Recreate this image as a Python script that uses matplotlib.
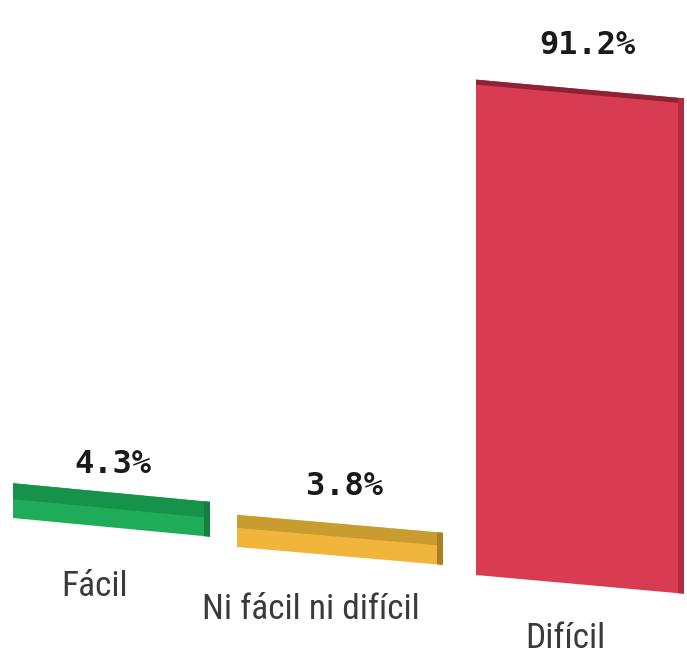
import matplotlib
matplotlib.use('Agg')
import matplotlib.pyplot as plt
from matplotlib.transforms import Affine2D
from matplotlib import font_manager

categories = ['Fácil', 'Ni fácil ni difícil', 'Difícil']
values = [4.3, 3.8, 91.2]
value_labels = ['4.3%', '3.8%', '91.2%']

W, H = 687, 657
PX = 5.3  # pixels per percentage point
fig = plt.figure(figsize=(W / 100, H / 100), dpi=100)
ax = fig.add_axes([0, 0, 1, 1])
ax.set_xlim(0, W)
ax.set_ylim(0, H / PX)
ax.axis('off')

# pick a condensed face if available
names = {f.name for f in font_manager.fontManager.ttflist}
cond_family = 'DejaVu Sans'
cond_size = 22
for cand in ['DejaVu Sans Condensed', 'Liberation Sans Narrow', 'Roboto Condensed']:
    if cand in names:
        cond_family = cand
        cond_size = 25.5
        break

# layout / style
lefts = [13, 237, 476]
widths = [197, 206, 208]
bottoms_px = [518, 547, 575]
slopes = [0.095, 0.087, 0.09]
front_colors = ['#1fac58', '#f2b53c', '#d73c52']
top_colors = ['#17924a', '#c99c2f', '#8e2233']
side_colors = ['#13803f', '#a98023', '#b22b40']
top_depth_px = [16, 13, 5]
side_w = 6
thick = 12 / PX
val_offsets_px = [10, 20, 26]
val_x = [113, 344, 587]
cat_x = [95, 311, 565]
cat_base_px = [596, 619, 648]

for i, v in enumerate(values):
    left, w, s = lefts[i], widths[i], slopes[i]
    bottom = (H - bottoms_px[i]) / PX
    h = v + thick
    m = s / PX
    tr = Affine2D([[1, 0, 0], [-m, 1, m * left], [0, 0, 1]]) + ax.transData
    ax.bar(left, h, width=w, bottom=bottom, align='edge', color=front_colors[i],
           transform=tr, linewidth=0)
    td = top_depth_px[i] / PX
    ax.bar(left, td, width=w, bottom=bottom + h - td, align='edge',
           color=top_colors[i], transform=tr, linewidth=0)
    ax.bar(left + w - side_w, h, width=side_w, bottom=bottom, align='edge',
           color=side_colors[i], transform=tr, linewidth=0)
    ax.text(val_x[i], bottom + h + val_offsets_px[i] / PX, value_labels[i],
            ha='center', va='baseline', fontsize=23, fontweight='bold',
            family='DejaVu Sans Mono', color='#1a1a1a')
    ax.text(cat_x[i], (H - cat_base_px[i]) / PX, categories[i],
            ha='center', va='baseline', fontsize=cond_size, family=cond_family,
            color='#3a3a3a')

fig.savefig('out.png', dpi=100, facecolor='white')
